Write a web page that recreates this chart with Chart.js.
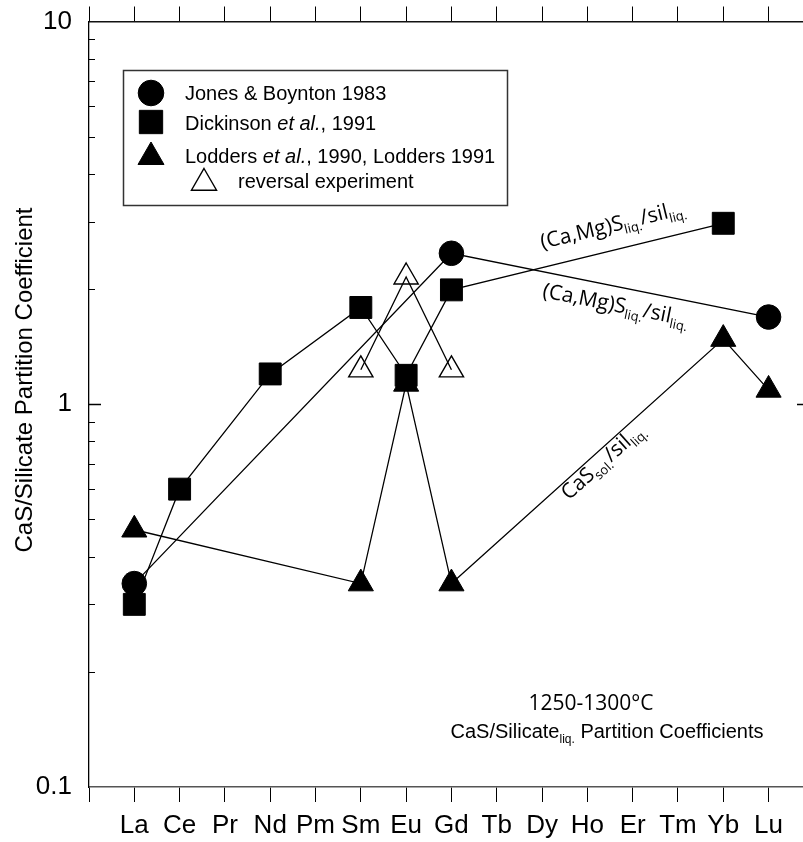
<!DOCTYPE html>
<html><head><meta charset="utf-8">
<script src="https://cdn.jsdelivr.net/npm/chart.js@4"></script>
<style>html,body{margin:0;padding:0;background:#fff;} canvas{display:block;}</style>
</head><body>
<canvas id="c" width="803" height="842"></canvas>
<script>
// ---- data ----
const elements = ['La','Ce','Pr','Nd','Pm','Sm','Eu','Gd','Tb','Dy','Ho','Er','Tm','Yb','Lu'];
const yTickValues = [0.1, 1, 10];

const jonesElems  = ['La','Gd','Lu'];
const jonesValues = [0.34, 2.48, 1.69];

const dickElems  = ['La','Ce','Nd','Sm','Eu','Gd','Yb'];
const dickValues = [0.30, 0.60, 1.20, 1.79, 1.19, 1.99, 2.97];

const loddElems  = ['La','Sm','Eu','Gd','Yb','Lu'];
const loddValues = [0.47, 0.34, 1.13, 0.34, 1.48, 1.09];

const revElems  = ['Sm','Eu','Gd'];
const revValues = [1.23, 2.15, 1.23];

const seriesNames = ['Jones & Boynton 1983','Dickinson et al., 1991','Lodders et al., 1990, Lodders 1991','reversal experiment'];

function pts(els, vals){ return els.map((e,i)=>({x: elements.indexOf(e)+1, y: vals[i]})); }

const SANS = "'Liberation Sans', Arial, sans-serif";
const OPT = "'Open Sans', 'Noto Sans', sans-serif";

const lineBase = {showLine:true, borderColor:'#000', borderWidth:1.3, tension:0, pointBorderColor:'#000', pointBorderWidth:1};

const datasets = [
  Object.assign({}, lineBase, {label:seriesNames[1], data:pts(dickElems,dickValues), pointStyle:'rect', pointRadius:15.5, pointBackgroundColor:'#000'}),
  Object.assign({}, lineBase, {label:seriesNames[0], data:pts(jonesElems,jonesValues), pointStyle:'circle', pointRadius:12.3, pointBackgroundColor:'#000'}),
  Object.assign({}, lineBase, {label:seriesNames[2], data:pts(loddElems,loddValues), pointStyle:'triangle', pointRadius:14.5, pointBackgroundColor:'#000'}),
  Object.assign({}, lineBase, {label:seriesNames[3], data:pts(revElems,revValues), pointStyle:'triangle', pointRadius:14, pointBackgroundColor:'rgba(0,0,0,0)', pointBorderWidth:1.4})
];

const xPositions = [0].concat(elements.map((e,i)=>i+1));
const XMAX = 15.76;

// annotations along segments: dataset index, point indices, fraction, perpendicular offset (+ = below)
const SUBF = "13px " + OPT, MAINF = "21px " + OPT;
const annotations = [
  {ds:0, i0:5, i1:6, frac:0.35, off:-18, parts:[{t:'(Ca,Mg)S',f:MAINF},{t:'liq.',f:SUBF,dy:5},{t:'/sil',f:MAINF},{t:'liq.',f:SUBF,dy:5}]},
  {ds:1, i0:1, i1:2, frac:0.30, off:25, parts:[{t:'(Ca,Mg)S',f:MAINF},{t:'liq.',f:SUBF,dy:5},{t:'/sil',f:MAINF},{t:'liq.',f:SUBF,dy:5}]},
  {ds:2, i0:3, i1:4, frac:0.39, off:17, parts:[{t:'CaS',f:MAINF},{t:'sol.',f:SUBF,dy:5},{t:'/sil',f:MAINF},{t:'liq.',f:SUBF,dy:5}]}
];

function drawRich(ctx, parts, x, y, angle){
  ctx.save(); ctx.translate(x,y); ctx.rotate(angle||0);
  ctx.textBaseline='alphabetic'; ctx.textAlign='left'; ctx.fillStyle='#000';
  let cx=0;
  for(const p of parts){ ctx.font=p.f; ctx.fillText(p.t, cx, p.dy||0); cx += ctx.measureText(p.t).width; }
  ctx.restore();
}
function richWidth(ctx, parts){ let w=0; ctx.save(); for(const p of parts){ctx.font=p.f; w+=ctx.measureText(p.t).width;} ctx.restore(); return w; }

function marker(ctx, style, r, x, y, fill, bw){
  ctx.save();
  ctx.fillStyle = fill; ctx.strokeStyle='#000'; ctx.lineWidth = bw;
  Chart.helpers.drawPoint(ctx, {pointStyle:style, radius:r, rotation:0, borderWidth:bw}, x, y);
  ctx.restore();
}

function noPad(s){ s.paddingLeft=0; s.paddingRight=0; s.paddingTop=0; s.paddingBottom=0; }

const extras = {
  id:'extras',
  afterDraw(chart){
    const ctx = chart.ctx, ys = chart.scales.y, ca = chart.chartArea;
    ctx.save();
    // inner minor ticks on y axis
    ctx.strokeStyle='#000'; ctx.lineWidth=1;
    [0.1,1].forEach(k=>{
      for(let m=2;m<=9;m++){
        const py = Math.round(ys.getPixelForValue(m*k))+0.5;
        ctx.beginPath(); ctx.moveTo(ca.left, py); ctx.lineTo(ca.left+6, py); ctx.stroke();
      }
    });
    const p1 = Math.round(ys.getPixelForValue(1))+0.5;
    ctx.lineWidth=1.5;
    ctx.beginPath(); ctx.moveTo(ca.left, p1); ctx.lineTo(ca.left+12, p1); ctx.stroke();
    ctx.beginPath(); ctx.moveTo(ca.right-6, p1); ctx.lineTo(ca.right, p1); ctx.stroke();

    // y axis title
    ctx.save();
    ctx.translate(25, 380); ctx.rotate(-Math.PI/2);
    ctx.font = "24px " + SANS; ctx.fillStyle='#000'; ctx.textAlign='center'; ctx.textBaseline='middle';
    ctx.fillText('CaS/Silicate Partition Coefficient', 0, 0);
    ctx.restore();

    // segment annotations
    annotations.forEach(a=>{
      const meta = chart.getDatasetMeta(a.ds);
      const A = meta.data[a.i0], B = meta.data[a.i1];
      const dx = B.x-A.x, dy = B.y-A.y, L = Math.hypot(dx,dy);
      const ux = dx/L, uy = dy/L, nx = -uy, ny = ux;
      const sx = A.x + dx*a.frac + nx*a.off, sy = A.y + dy*a.frac + ny*a.off;
      drawRich(ctx, a.parts, sx, sy, Math.atan2(dy,dx));
    });

    // bottom-right caption
    ctx.font = "21px " + OPT; ctx.fillStyle='#000'; ctx.textAlign='center'; ctx.textBaseline='alphabetic';
    ctx.fillText('1250-1300\u00B0C', 591, 710);
    const cap = [{t:'CaS/Silicate',f:"20px "+SANS},{t:'liq.',f:"12px "+SANS,dy:5},{t:' Partition Coefficients',f:"20px "+SANS}];
    const cw = richWidth(ctx, cap);
    drawRich(ctx, cap, 607 - cw/2, 738, 0);

    // legend box
    ctx.fillStyle='#fff'; ctx.fillRect(123,70,384,135);
    ctx.strokeStyle='#333'; ctx.lineWidth=1.5; ctx.strokeRect(123.5,70.5,384,135);
    marker(ctx,'circle',12.8,151,93,'#000',1);
    marker(ctx,'rect',16.5,151,122,'#000',1);
    marker(ctx,'triangle',15,151,157,'#000',1);
    marker(ctx,'triangle',14.5,204,183,'#fff',1.4);
    const F = "20px "+SANS, FI = "italic 20px "+SANS;
    drawRich(ctx,[{t:'Jones & Boynton 1983',f:F}],185,100,0);
    drawRich(ctx,[{t:'Dickinson ',f:F},{t:'et al.',f:FI},{t:', 1991',f:F}],185,129.5,0);
    drawRich(ctx,[{t:'Lodders ',f:F},{t:'et al.',f:FI},{t:', 1990, Lodders 1991',f:F}],185,163,0);
    drawRich(ctx,[{t:'reversal experiment',f:F}],238,188,0);
    ctx.restore();
  }
};

new Chart(document.getElementById('c'), {
  type:'scatter',
  data:{datasets},
  options:{
    responsive:false, animation:false, devicePixelRatio:1,
    layout:{padding:0, autoPadding:false},
    plugins:{legend:{display:false}, tooltip:{enabled:false}},
    scales:{
      x:{type:'linear', position:'bottom', min:0, max:XMAX,
        afterBuildTicks:s=>{ s.ticks = xPositions.map(v=>({value:v})); },
        ticks:{autoSkip:false, maxRotation:0, padding:8, color:'#000', font:{family:SANS, size:26},
          callback:v=> (v>=1 && v<=elements.length) ? elements[v-1] : ''},
        grid:{drawOnChartArea:false, drawTicks:true, tickLength:15, color:'#000', lineWidth:1},
        border:{display:true, color:'#555', width:1.5},
        afterFit:s=>{ s.height = 55; noPad(s); }
      },
      xTop:{type:'linear', position:'top', min:0, max:XMAX,
        afterBuildTicks:s=>{ s.ticks = xPositions.map(v=>({value:v})); },
        ticks:{display:false},
        grid:{drawOnChartArea:false, drawTicks:true, tickLength:15, color:'#000', lineWidth:1},
        border:{display:true, color:'#111', width:1.5},
        afterFit:s=>{ s.height = 21.5; noPad(s); }
      },
      y:{type:'logarithmic', position:'left', min:0.1, max:10,
        afterBuildTicks:s=>{ s.ticks = yTickValues.map(v=>({value:v})); },
        ticks:{padding:9, color:'#000', font:{family:SANS, size:26},
          callback:v=> yTickValues.includes(v) ? String(v) : ''},
        grid:{display:false},
        border:{display:true, color:'#000', width:1.3},
        afterFit:s=>{ s.width = 89; noPad(s); }
      }
    }
  },
  plugins:[extras]
});
</script>
</body></html>
